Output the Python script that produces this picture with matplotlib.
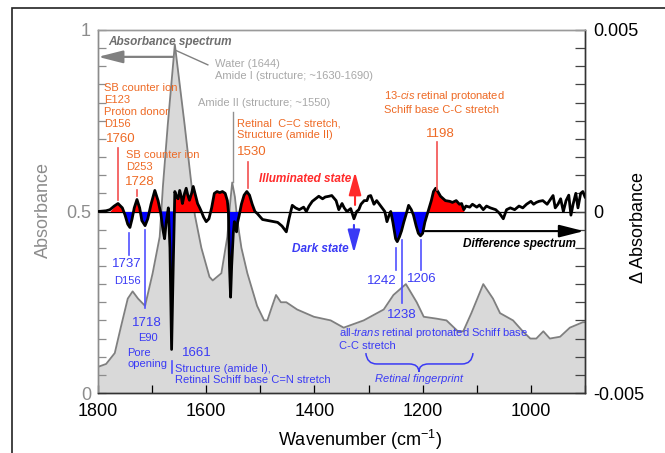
import numpy as np
import matplotlib
matplotlib.use('Agg')
import matplotlib.pyplot as plt
from matplotlib.path import Path
from matplotlib.patches import PathPatch, Rectangle
from matplotlib.ticker import MultipleLocator, FixedLocator

plt.rcParams['font.family'] = ['Liberation Sans', 'DejaVu Sans']
plt.rcParams['mathtext.fontset'] = 'custom'
plt.rcParams['mathtext.rm'] = 'Liberation Sans'
plt.rcParams['mathtext.it'] = 'Liberation Sans:italic'
plt.rcParams['axes.unicode_minus'] = False

# absorbance spectrum
abs_wn = np.array([1800, 1785, 1769, 1758, 1745, 1736, 1726, 1713, 1699, 1686,
                   1680, 1671, 1658, 1640, 1627, 1621, 1609, 1594, 1588, 1572,
                   1561, 1556, 1552, 1547, 1542, 1535, 1524, 1506, 1493, 1487,
                   1478, 1471, 1462, 1452, 1432, 1401, 1370, 1346, 1309, 1272,
                   1254, 1231, 1211, 1198, 1175, 1156, 1135, 1125, 1110, 1088,
                   1070, 1057, 1033, 1015, 1001, 990, 977, 965, 946, 928, 904, 900])
abs_val = np.array([0.072, 0.08, 0.11, 0.18, 0.26, 0.28, 0.26, 0.24, 0.33, 0.43,
                    0.57, 0.74, 0.96, 0.74, 0.57, 0.49, 0.40, 0.32, 0.31, 0.33,
                    0.43, 0.52, 0.58, 0.54, 0.47, 0.40, 0.33, 0.24, 0.20, 0.20,
                    0.24, 0.27, 0.25, 0.25, 0.23, 0.21, 0.20, 0.18, 0.20, 0.23,
                    0.27, 0.30, 0.25, 0.21, 0.205, 0.20, 0.17, 0.17, 0.22, 0.30,
                    0.26, 0.22, 0.20, 0.17, 0.15, 0.15, 0.17, 0.15, 0.155, 0.18, 0.195, 0.195])

# difference spectrum, units of 1e-3
diff_wn = np.array([1800, 1785, 1778, 1770, 1763, 1755, 1750, 1745, 1741, 1737,
                    1733, 1728, 1723, 1719, 1713, 1708, 1702, 1695, 1689, 1684,
                    1680, 1677, 1674, 1670, 1667, 1664, 1661, 1658, 1655, 1652,
                    1649, 1646, 1644, 1640, 1637, 1634, 1631, 1627, 1624, 1620,
                    1616, 1612, 1609, 1605, 1600, 1595, 1590, 1585, 1580, 1575,
                    1570, 1565, 1561, 1559, 1557, 1555, 1553, 1550, 1548, 1546,
                    1544, 1542, 1539, 1535, 1530, 1525, 1520, 1515, 1510, 1506,
                    1500, 1496, 1485, 1475, 1468, 1460, 1452, 1447, 1441, 1435,
                    1428, 1420, 1415, 1410, 1404, 1398, 1392, 1385, 1380, 1373,
                    1368, 1363, 1360, 1355, 1349, 1345, 1340, 1333, 1327, 1322,
                    1318, 1314, 1308, 1303, 1300, 1296, 1290, 1285, 1281, 1275,
                    1270, 1266, 1262, 1259, 1255, 1250, 1247, 1243, 1239, 1235,
                    1230, 1226, 1221, 1217, 1212, 1208, 1204, 1200, 1196, 1190,
                    1184, 1180, 1176, 1172, 1167, 1158, 1150, 1145, 1138, 1132,
                    1128, 1124, 1120, 1113, 1108, 1100, 1095, 1088, 1082, 1075,
                    1065, 1058, 1051, 1045, 1038, 1030, 1022, 1015, 1008, 1000,
                    995, 990, 985, 978, 970, 963, 959, 955, 950, 945,
                    940, 935, 930, 926, 922, 917, 913, 908, 904, 900])
diff_val = np.array([0.0, 0.02, 0.05, 0.15, 0.22, 0.1, -0.1, -0.35, -0.44, -0.2,
                     0.1, 0.33, 0.1, -0.25, -0.39, -0.2, 0.2, 0.58, 0.3, -0.05,
                     -0.5, -0.75, -0.3, 0.1, -1.0, -3.8, -1.5, 0.55, 0.42, 0.35,
                     0.58, 0.4, 0.22, 0.5, 0.64, 0.45, 0.31, 0.5, 0.69, 0.45,
                     0.22, 0.1, 0.0, -0.15, -0.28, -0.2, 0.1, 0.5, 0.55, 0.52,
                     0.55, 0.5, 0.3, 0.0, -1.5, -2.36, -1.5, -0.6, -0.28, -0.4,
                     -0.56, -0.3, -0.1, 0.2, 0.45, 0.55, 0.45, 0.2, 0.0, -0.05,
                     -0.15, -0.22, -0.25, -0.28, -0.3, -0.4, -0.56, -0.2, 0.17, 0.1,
                     0.05, 0.12, 0.0, 0.15, 0.28, 0.35, 0.42, 0.35, 0.4, 0.42,
                     0.44, 0.35, 0.3, 0.05, 0.22, 0.1, 0.0, 0.08, -0.2, 0.0,
                     0.05, 0.2, 0.3, 0.3, 0.42, 0.44, 0.2, 0.3, 0.22, 0.1,
                     0.0, -0.28, -0.1, 0.0, -0.3, -0.75, -0.83, -0.7, -0.53, -0.3,
                     -0.05, 0.17, 0.05, -0.1, -0.4, -0.6, -0.67, -0.6, -0.3, 0.0,
                     0.3, 0.55, 0.64, 0.55, 0.42, 0.3, 0.28, 0.25, 0.3, 0.2,
                     0.22, 0.05, 0.15, 0.12, 0.2, 0.12, 0.18, 0.05, 0.15, 0.1,
                     0.05, -0.05, -0.2, 0.05, 0.1, 0.05, 0.15, 0.1, 0.2, 0.28,
                     0.2, 0.25, 0.28, 0.3, 0.2, 0.35, 0.44, 0.1, 0.2, 0.35,
                     0.0, 0.3, 0.45, -0.1, 0.2, 0.5, 0.1, 0.5, 0.55, 0.4])

# bands that are coloured in the picture
red_bands = [(1775, 1750), (1735, 1722), (1705, 1686), (1660, 1608),
             (1592, 1559), (1538, 1508), (1190, 1122)]
blue_bands = [(1752, 1733), (1722, 1704), (1686, 1659), (1560, 1538),
              (1258, 1228), (1222, 1188)]

ORANGE = '#ee6a25'
RED = '#ff2b2b'
RLINE = '#f24f4f'
BLUE = '#3a3af5'
BLINE = '#5050ff'
LGRAY = '#a8a8a8'

fig = plt.figure(figsize=(6.65, 4.53), dpi=100)
ax = fig.add_axes([98/665, 1-393/453, 487/665, 363/453])
ax2 = ax.twinx()
T = ax.transData

ax.fill_between(abs_wn, 0, abs_val, color='#d9d9d9', lw=0, zorder=1)
ax.plot(abs_wn, abs_val, color='#7f7f7f', lw=1.3, zorder=2)

d = diff_val * 1e-3
ax2.axhline(0, color='black', lw=0.9, zorder=1)
for hi, lo in red_bands:
    m = (diff_wn <= hi) & (diff_wn >= lo)
    ax2.fill_between(diff_wn, 0, d, where=m & (d >= 0), interpolate=True,
                     color='#ff0000', lw=0, zorder=2)
for hi, lo in blue_bands:
    m = (diff_wn <= hi) & (diff_wn >= lo)
    ax2.fill_between(diff_wn, 0, d, where=m & (d <= 0), interpolate=True,
                     color='#0000ff', lw=0, zorder=2)
ax2.plot(diff_wn, d, color='black', lw=2.0, zorder=3, solid_joinstyle='round')

# axes styling
ax.set_xlim(1800, 900)
ax.set_ylim(0, 1)
ax2.set_ylim(-0.005, 0.005)
ax.xaxis.set_major_locator(FixedLocator([1800, 1600, 1400, 1200, 1000]))
ax.xaxis.set_minor_locator(FixedLocator([1700, 1500, 1300, 1100, 900]))
ax.yaxis.set_major_locator(FixedLocator([0, 0.5, 1]))
ax.yaxis.set_minor_locator(MultipleLocator(0.05))
ax.set_yticklabels(['0', '0.5', '1'])
ax2.yaxis.set_major_locator(FixedLocator([-0.005, 0, 0.005]))
ax2.yaxis.set_minor_locator(MultipleLocator(0.0005))
ax2.set_yticklabels(['-0.005', '0', '0.005'])

ax.tick_params(axis='x', which='both', direction='in', labelsize=13, pad=7,
               length=6, width=0.9, top=False)
ax.tick_params(axis='y', which='both', direction='in', labelsize=13, pad=5,
               length=6, width=0.9, colors='#8c8c8c', labelcolor='#8c8c8c')
ax2.tick_params(axis='y', which='both', direction='in', labelsize=13, pad=6,
                length=7, width=0.9, colors='#444444', labelcolor='black')
for a in (ax, ax2):
    a.spines['left'].set_color('#8c8c8c')
    a.spines['top'].set_color('#9a9a9a')
    a.spines['right'].set_color('#333333')
    a.spines['bottom'].set_color('#333333')
    for s in a.spines.values():
        s.set_linewidth(1.0)

ax.set_xlabel('Wavenumber (cm$^{-1}$)', fontsize=13)
ax.xaxis.set_label_coords(0.538, -0.095)
ax.set_ylabel('Absorbance', fontsize=13, color='#8c8c8c')
ax.yaxis.set_label_coords(-0.094, 0.504)
ax2.set_ylabel('\u0394 Absorbance', fontsize=13, color='black')
ax2.yaxis.set_label_coords(1.092, 0.455)


def txt(x, y, s, color, size=8, ha='left', **kw):
    ax2.text(x, y, s, color=color, fontsize=size, ha=ha, va='center',
             transform=T, zorder=6, **kw)


def vline(x, y0, y1, color, lw=1.2):
    ax2.plot([x, x], [y0, y1], color=color, lw=lw, transform=T, zorder=5)


def arrow(x0, y0, x1, y1, color, lw, hl, hw):
    ax2.annotate('', xy=(x1, y1), xytext=(x0, y0), xycoords=T, textcoords=T,
                 arrowprops=dict(arrowstyle='-|>,head_length=%g,head_width=%g' % (hl, hw),
                                 color=color, lw=lw, shrinkA=0, shrinkB=0,
                                 mutation_scale=1), zorder=6)


# absorbance spectrum label and arrow
txt(1781, 0.967, 'Absorbance spectrum', '#6e6e6e', 8.5, fontweight='bold', style='italic')
arrow(1661, 0.926, 1800, 0.926, '#808080', 1.6, 15, 3.8)
ax2.plot([1658, 1597], [0.945, 0.904], color='#808080', lw=1.0, transform=T, zorder=5)
txt(1584, 0.891, 'Water (1644)\nAmide I (structure; ~1630-1690)', LGRAY, 8, linespacing=1.25)
txt(1615, 0.799, 'Amide II (structure; ~1550)', LGRAY, 8)
vline(1550, 0.774, 0.581, '#909090', 1.0)

# orange (illuminated) assignments
txt(1789, 0.792, 'SB counter ion\nE123\nProton donor\nD156', ORANGE, 8, linespacing=1.25)
txt(1785, 0.700, '1760', ORANGE, 9.5)
vline(1763, 0.675, 0.532, RLINE)
txt(1748, 0.638, 'SB counter ion\nD253', ORANGE, 8, linespacing=1.25)
txt(1750, 0.581, '1728', ORANGE, 9.5)
vline(1728, 0.559, 0.543, RLINE)
txt(1543, 0.726, 'Retinal  C=C stretch,\nStructure (amide II)', ORANGE, 8, linespacing=1.25)
txt(1543, 0.664, '1530', ORANGE, 9.5)
vline(1523, 0.636, 0.565, RLINE)
txt(1271, 0.803, '13-$\\mathit{cis}$ retinal protonated\nSchiff base C-C stretch', ORANGE, 8,
    linespacing=1.25)
txt(1168, 0.713, '1198', ORANGE, 9.5, ha='center')
vline(1174, 0.691, 0.559, RLINE)

# state arrows
txt(1502, 0.590, 'Illuminated state', RED, 8.5, fontweight='bold', style='italic')
arrow(1325, 0.518, 1325, 0.609, RED, 1.5, 14, 3.8)
txt(1336, 0.397, 'Dark state', BLUE, 8.5, ha='right', fontweight='bold', style='italic')
arrow(1327, 0.463, 1327, 0.386, BLUE, 1.5, 14, 3.8)
arrow(1196, 0.446, 902, 0.446, 'black', 1.5, 15, 3.8)
txt(1125, 0.410, 'Difference spectrum', 'black', 8.5, fontweight='bold', style='italic')

# blue (dark) assignments
txt(1746, 0.355, '1737', BLUE, 9.5, ha='center')
txt(1746, 0.309, 'D156', BLUE, 8, ha='center')
vline(1743, 0.441, 0.380, BLINE)
txt(1709, 0.193, '1718', BLUE, 9.5, ha='center')
txt(1707, 0.152, 'E90', BLUE, 8, ha='center')
txt(1746, 0.096, 'Pore\nopening', BLUE, 8, linespacing=1.1)
vline(1713, 0.449, 0.234, BLINE)
txt(1645, 0.110, '1661', BLUE, 9.5)
txt(1658, 0.051, 'Structure (amide I),\nRetinal Schiff base C=N stretch', BLUE, 8,
    linespacing=1.15)
vline(1663, 0.088, 0.055, BLINE)
txt(1275, 0.309, '1242', BLUE, 9.5, ha='center')
vline(1249, 0.399, 0.339, BLINE)
txt(1238, 0.215, '1238', BLUE, 9.5, ha='center')
vline(1238, 0.421, 0.248, BLINE)
txt(1201, 0.314, '1206', BLUE, 9.5, ha='center')
vline(1203, 0.421, 0.339, BLINE)
txt(1355, 0.150, 'all-$\\mathit{trans}$ retinal protonated Schiff base\nC-C stretch', BLUE, 8,
    linespacing=1.15)

# curly brace under the fingerprint region
bl, br, bt, bm, bb, bc = 1305, 1107, 0.110, 0.080, 0.058, 1207
verts = [(bl, bt), (bl - 2, bm), (bl - 20, bm), (bc + 18, bm), (bc, bm), (bc, bb),
         (bc, bm), (bc - 18, bm), (br + 20, bm), (br + 2, bm), (br, bt)]
codes = [Path.MOVETO, Path.CURVE3, Path.CURVE3, Path.LINETO, Path.CURVE3, Path.CURVE3,
         Path.CURVE3, Path.CURVE3, Path.LINETO, Path.CURVE3, Path.CURVE3]
ax2.add_patch(PathPatch(Path(verts, codes), fill=False, edgecolor=BLUE, lw=1.1,
                        transform=T, zorder=5))
txt(1207, 0.039, 'Retinal fingerprint', BLUE, 8, ha='center', style='italic')

ax.set_xlim(1800, 900)
ax.set_ylim(0, 1)
ax2.set_ylim(-0.005, 0.005)

fig.patches.append(Rectangle((12/665, -0.05), 1.1, (453 - 8)/453 + 0.05,
                             transform=fig.transFigure, fill=False,
                             edgecolor='#222222', lw=1.2))

fig.savefig('out.png', dpi=100)
